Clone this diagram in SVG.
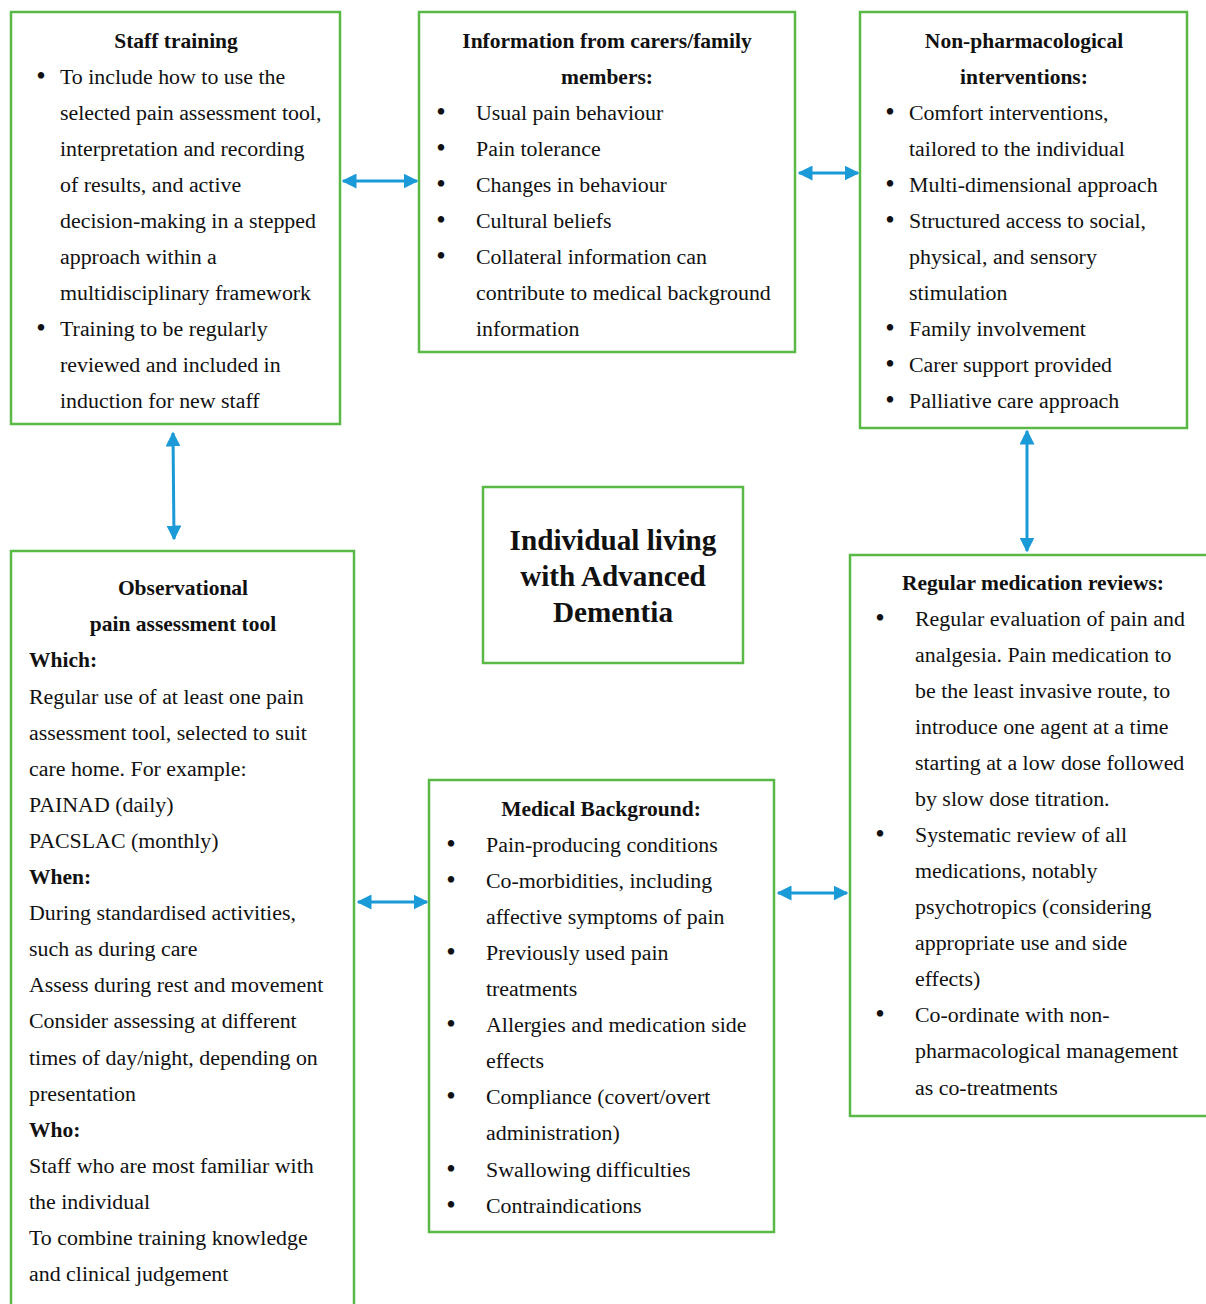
<svg xmlns="http://www.w3.org/2000/svg" width="1206" height="1304" viewBox="0 0 1206 1304">
<defs>
<marker id="ah" viewBox="0 0 10 10" refX="9" refY="5" markerWidth="5" markerHeight="5" orient="auto-start-reverse" markerUnits="strokeWidth">
<path d="M0,0 L10,5 L0,10 z" fill="#1a9ad6"/>
</marker>
<style>
.box{fill:#fff;stroke:#5ab946;stroke-width:2.5}
.t{font-family:"Liberation Serif","Times New Roman",serif;font-size:21.9px;fill:#111}
.bu{font-family:"Liberation Serif","Times New Roman",serif;font-size:27px;fill:#111;text-anchor:middle}
.b{font-weight:bold;font-size:21.5px}
.c{text-anchor:middle}
.big{font-size:29.2px;font-weight:bold}
.con{stroke:#1a9ad6;stroke-width:3;fill:none;marker-start:url(#ah);marker-end:url(#ah)}
</style>
</defs>
<rect width="1206" height="1304" fill="#fff"/>

<g id="staff-training">
<rect class="box" x="11" y="12" width="329" height="412"/>
<text class="t b c" x="176" y="48">Staff training</text>
<text class="bu" x="41" y="85">•</text>
<text class="t" x="60" y="84">To include how to use the</text>
<text class="t" x="60" y="120">selected pain assessment tool,</text>
<text class="t" x="60" y="156">interpretation and recording</text>
<text class="t" x="60" y="192">of results, and active</text>
<text class="t" x="60" y="228">decision-making in a stepped</text>
<text class="t" x="60" y="264">approach within a</text>
<text class="t" x="60" y="300">multidisciplinary framework</text>
<text class="bu" x="41" y="337">•</text>
<text class="t" x="60" y="336">Training to be regularly</text>
<text class="t" x="60" y="372">reviewed and included in</text>
<text class="t" x="60" y="408">induction for new staff</text>
</g>

<g id="carers-info">
<rect class="box" x="419" y="12" width="376" height="340"/>
<text class="t b c" x="607" y="48">Information from carers/family</text>
<text class="t b c" x="607" y="84">members:</text>
<text class="bu" x="441" y="121">•</text>
<text class="t" x="476" y="120">Usual pain behaviour</text>
<text class="bu" x="441" y="157">•</text>
<text class="t" x="476" y="156">Pain tolerance</text>
<text class="bu" x="441" y="193">•</text>
<text class="t" x="476" y="192">Changes in behaviour</text>
<text class="bu" x="441" y="229">•</text>
<text class="t" x="476" y="228">Cultural beliefs</text>
<text class="bu" x="441" y="265">•</text>
<text class="t" x="476" y="264">Collateral information can</text>
<text class="t" x="476" y="300">contribute to medical background</text>
<text class="t" x="476" y="336">information</text>
</g>

<g id="non-pharmacological">
<rect class="box" x="860" y="12" width="327" height="416"/>
<text class="t b c" x="1024" y="48">Non-pharmacological</text>
<text class="t b c" x="1024" y="84">interventions:</text>
<text class="bu" x="890" y="121">•</text>
<text class="t" x="909" y="120">Comfort interventions,</text>
<text class="t" x="909" y="156">tailored to the individual</text>
<text class="bu" x="890" y="193">•</text>
<text class="t" x="909" y="192">Multi-dimensional approach</text>
<text class="bu" x="890" y="229">•</text>
<text class="t" x="909" y="228">Structured access to social,</text>
<text class="t" x="909" y="264">physical, and sensory</text>
<text class="t" x="909" y="300">stimulation</text>
<text class="bu" x="890" y="337">•</text>
<text class="t" x="909" y="336">Family involvement</text>
<text class="bu" x="890" y="373">•</text>
<text class="t" x="909" y="372">Carer support provided</text>
<text class="bu" x="890" y="409">•</text>
<text class="t" x="909" y="408">Palliative care approach</text>
</g>

<g id="individual">
<rect class="box" x="483" y="487" width="260" height="176"/>
<text class="t big c" x="613" y="550">Individual living</text>
<text class="t big c" x="613" y="586">with Advanced</text>
<text class="t big c" x="613" y="622">Dementia</text>
</g>

<g id="observational-tool">
<rect class="box" x="11" y="551" width="343" height="770"/>
<text class="t b c" x="183" y="595">Observational</text>
<text class="t b c" x="183" y="631">pain assessment tool</text>
<text class="t b" x="29" y="667">Which:</text>
<text class="t" x="29" y="704">Regular use of at least one pain</text>
<text class="t" x="29" y="740">assessment tool, selected to suit</text>
<text class="t" x="29" y="776">care home. For example:</text>
<text class="t" x="29" y="812">PAINAD (daily)</text>
<text class="t" x="29" y="848">PACSLAC (monthly)</text>
<text class="t b" x="29" y="884">When:</text>
<text class="t" x="29" y="920">During standardised activities,</text>
<text class="t" x="29" y="956">such as during care</text>
<text class="t" x="29" y="992">Assess during rest and movement</text>
<text class="t" x="29" y="1028">Consider assessing at different</text>
<text class="t" x="29" y="1065">times of day/night, depending on</text>
<text class="t" x="29" y="1101">presentation</text>
<text class="t b" x="29" y="1137">Who:</text>
<text class="t" x="29" y="1173">Staff who are most familiar with</text>
<text class="t" x="29" y="1209">the individual</text>
<text class="t" x="29" y="1245">To combine training knowledge</text>
<text class="t" x="29" y="1281">and clinical judgement</text>
</g>

<g id="medical-background">
<rect class="box" x="429" y="780" width="345" height="452"/>
<text class="t b c" x="601" y="816">Medical Background:</text>
<text class="bu" x="451" y="853">•</text>
<text class="t" x="486" y="852">Pain-producing conditions</text>
<text class="bu" x="451" y="889">•</text>
<text class="t" x="486" y="888">Co-morbidities, including</text>
<text class="t" x="486" y="924">affective symptoms of pain</text>
<text class="bu" x="451" y="961">•</text>
<text class="t" x="486" y="960">Previously used pain</text>
<text class="t" x="486" y="996">treatments</text>
<text class="bu" x="451" y="1033">•</text>
<text class="t" x="486" y="1032">Allergies and medication side</text>
<text class="t" x="486" y="1068">effects</text>
<text class="bu" x="451" y="1105">•</text>
<text class="t" x="486" y="1104">Compliance (covert/overt</text>
<text class="t" x="486" y="1140">administration)</text>
<text class="bu" x="451" y="1178">•</text>
<text class="t" x="486" y="1177">Swallowing difficulties</text>
<text class="bu" x="451" y="1214">•</text>
<text class="t" x="486" y="1213">Contraindications</text>
</g>

<g id="medication-reviews">
<rect class="box" x="850" y="555" width="370" height="561"/>
<text class="t b c" x="1033" y="590">Regular medication reviews:</text>
<text class="bu" x="880" y="627">•</text>
<text class="t" x="915" y="626">Regular evaluation of pain and</text>
<text class="t" x="915" y="662">analgesia. Pain medication to</text>
<text class="t" x="915" y="698">be the least invasive route, to</text>
<text class="t" x="915" y="734">introduce one agent at a time</text>
<text class="t" x="915" y="770">starting at a low dose followed</text>
<text class="t" x="915" y="806">by slow dose titration.</text>
<text class="bu" x="880" y="843">•</text>
<text class="t" x="915" y="842">Systematic review of all</text>
<text class="t" x="915" y="878">medications, notably</text>
<text class="t" x="915" y="914">psychotropics (considering</text>
<text class="t" x="915" y="950">appropriate use and side</text>
<text class="t" x="915" y="986">effects)</text>
<text class="bu" x="880" y="1023">•</text>
<text class="t" x="915" y="1022">Co-ordinate with non-</text>
<text class="t" x="915" y="1058">pharmacological management</text>
<text class="t" x="915" y="1095">as co-treatments</text>
</g>

<g id="connectors">
<line class="con" x1="343" y1="181" x2="417" y2="181"/>
<line class="con" x1="799" y1="173" x2="858" y2="173"/>
<line class="con" x1="173" y1="433" x2="174" y2="539"/>
<line class="con" x1="1027" y1="431" x2="1027" y2="551"/>
<line class="con" x1="358" y1="902" x2="427" y2="902"/>
<line class="con" x1="778" y1="893" x2="847" y2="893"/>
</g>
</svg>
